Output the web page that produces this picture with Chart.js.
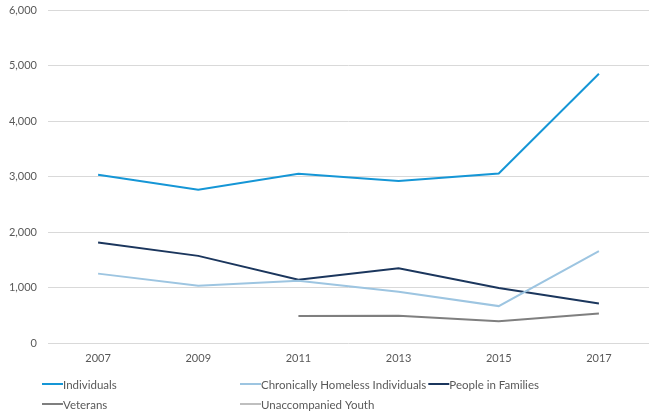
<!DOCTYPE html>
<html>
<head>
<meta charset="utf-8">
<script src="https://cdn.jsdelivr.net/npm/chart.js@4/dist/chart.umd.min.js"></script>
<style>
  html, body { margin: 0; padding: 0; background: #fff; overflow: hidden; }
  canvas { display: block; }
</style>
</head>
<body>
<canvas id="chart" width="649" height="414"></canvas>
<script>
  const years = ['2007', '2009', '2011', '2013', '2015', '2017'];
  const individuals = [3030, 2760, 3050, 2920, 3055, 4850];
  const chronicallyHomeless = [1250, 1030, 1120, 925, 665, 1655];
  const peopleInFamilies = [1810, 1570, 1140, 1345, 990, 710];
  const veterans = [null, null, 487, 492, 392, 530];
  const unaccompaniedYouth = [null, null, null, null, null, null];
  const yTicks = [0, 1000, 2000, 3000, 4000, 5000, 6000];

  const textColor = '#595959';
  const fontFamily = 'Lato, "Open Sans", sans-serif';

  // legend drawn like the Excel one: left aligned, fixed column starts
  const legendPlugin = {
    id: 'excelLegend',
    afterDraw(chart) {
      const ctx = chart.ctx;
      const sets = chart.data.datasets;
      ctx.save();
      ctx.font = '11.5px ' + fontFamily;
      ctx.textBaseline = 'middle';
      ctx.textAlign = 'left';
      const rows = [384, 404];
      const sample = 21;
      const slots = [];
      slots.push({ x: 42, y: rows[0] });
      slots.push({ x: 240, y: rows[0] });
      const w2 = ctx.measureText(sets[1].label).width;
      slots.push({ x: 240 + sample + w2 + 2, y: rows[0] });
      slots.push({ x: 42, y: rows[1] });
      slots.push({ x: 240, y: rows[1] });
      sets.forEach((ds, i) => {
        const s = slots[i];
        ctx.strokeStyle = ds.borderColor;
        ctx.lineWidth = 2;
        ctx.beginPath();
        ctx.moveTo(s.x, s.y);
        ctx.lineTo(s.x + sample, s.y);
        ctx.stroke();
        ctx.fillStyle = textColor;
        ctx.fillText(ds.label, s.x + sample, s.y + 1);
      });
      ctx.restore();
    }
  };

  function line(label, data, color) {
    return {
      label,
      data,
      borderColor: color,
      backgroundColor: color,
      borderWidth: 2,
      pointRadius: 0,
      tension: 0,
      fill: false
    };
  }

  new Chart(document.getElementById('chart'), {
    type: 'line',
    data: {
      labels: years,
      datasets: [
        line('Individuals', individuals, '#1596d6'),
        line('Chronically Homeless Individuals', chronicallyHomeless, '#9dc5e1'),
        line('People in Families', peopleInFamilies, '#1b365d'),
        line('Veterans', veterans, '#7f7f7f'),
        line('Unaccompanied Youth', unaccompaniedYouth, '#bfbfbf')
      ]
    },
    options: {
      responsive: false,
      animation: false,
      layout: { padding: { top: 10, left: 0, right: -4, bottom: 0 } },
      plugins: {
        legend: { display: false },
        tooltip: { enabled: false }
      },
      scales: {
        x: {
          offset: true,
          grid: { display: false, drawTicks: false },
          border: { display: false },
          ticks: { color: textColor, padding: 9, font: { family: fontFamily, size: 11 } },
          afterFit(scale) { scale.height = 71; }
        },
        y: {
          min: 0,
          max: 6000,
          afterBuildTicks(scale) { scale.ticks = yTicks.map(v => ({ value: v })); },
          grid: { color: '#d9d9d9', lineWidth: 1, drawTicks: false },
          border: { display: false },
          ticks: {
            color: textColor,
            padding: 11,
            font: { family: fontFamily, size: 11 },
            callback: v => v.toLocaleString('en-US')
          },
          afterFit(scale) {
            scale.width = 48;
            scale.paddingTop = 0;
            scale.paddingBottom = 0;
          }
        }
      }
    },
    plugins: [legendPlugin]
  });
</script>
</body>
</html>
